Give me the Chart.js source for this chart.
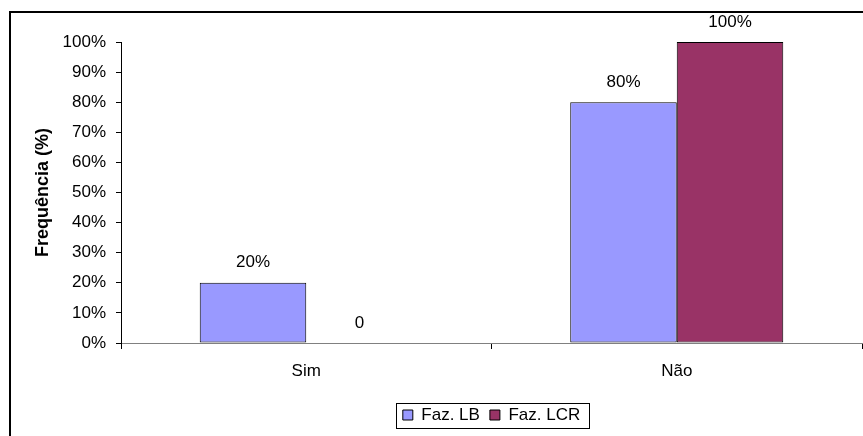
<!DOCTYPE html>
<html>
<head>
<meta charset="utf-8">
<script src="https://cdn.jsdelivr.net/npm/chart.js@4/dist/chart.umd.min.js"></script>
<style>
  html, body { margin: 0; padding: 0; background: #fff; }
  #wrap { width: 863px; height: 436px; }
</style>
</head>
<body>
<div id="wrap"><canvas id="chart"></canvas></div>
<script>
const categories = ['Sim', 'Não'];
const seriesNames = ['Faz. LB', 'Faz. LCR'];
const fazLB = [20, 80];
const fazLCR = [0, 100];
const yTicks = [0, 10, 20, 30, 40, 50, 60, 70, 80, 90, 100];

const FONT = 'Arial, "Liberation Sans", sans-serif';

// outer frame of the chart (only top and left edges are visible)
const framePlugin = {
  id: 'frame',
  afterDraw(chart) {
    const ctx = chart.ctx;
    ctx.save();
    ctx.strokeStyle = '#000';
    ctx.lineWidth = 2;
    ctx.beginPath();
    ctx.moveTo(10, 440);
    ctx.lineTo(10, 12);
    ctx.lineTo(870, 12);
    ctx.stroke();
    ctx.restore();
  }
};

// value labels above each bar
const valueLabels = {
  id: 'valueLabels',
  afterDatasetsDraw(chart) {
    const ctx = chart.ctx;
    ctx.save();
    ctx.font = '17px ' + FONT;
    ctx.fillStyle = '#000';
    ctx.textAlign = 'center';
    ctx.textBaseline = 'middle';
    chart.data.datasets.forEach((ds, i) => {
      chart.getDatasetMeta(i).data.forEach((bar, j) => {
        const v = ds.data[j];
        const txt = v === 0 ? '0' : v + '%';
        ctx.fillText(txt, bar.x, bar.y - 20);
      });
    });
    ctx.restore();
  }
};

// box round the legend
const legendBox = {
  id: 'legendBox',
  afterDraw(chart) {
    const lg = chart.legend;
    if (!lg || !lg.legendHitBoxes.length) return;
    const boxes = lg.legendHitBoxes;
    const left = Math.min(...boxes.map(b => b.left)) - 7;
    const right = Math.max(...boxes.map(b => b.left + b.width)) + 9;
    const mid = boxes[0].top + boxes[0].height / 2;
    const ctx = chart.ctx;
    ctx.save();
    ctx.strokeStyle = '#000';
    ctx.lineWidth = 1;
    ctx.strokeRect(Math.round(left) + 0.5, Math.round(mid - 12.5) + 0.5, Math.round(right - left), 25);
    ctx.restore();
  }
};

new Chart(document.getElementById('chart'), {
  type: 'bar',
  data: {
    labels: categories,
    datasets: [
      {
        label: seriesNames[0],
        data: fazLB,
        backgroundColor: '#9999FF',
        borderColor: '#000',
        borderWidth: 1,
        borderSkipped: false
      },
      {
        label: seriesNames[1],
        data: fazLCR,
        backgroundColor: '#993366',
        borderColor: '#000',
        borderWidth: 1,
        borderSkipped: false
      }
    ]
  },
  options: {
    responsive: true,
    maintainAspectRatio: false,
    animation: false,
    datasets: { bar: { categoryPercentage: 0.575, barPercentage: 1.0 } },
    layout: { padding: { top: 42, right: 1, left: 0, bottom: 2.5 } },
    plugins: {
      legend: {
        position: 'bottom',
        fullSize: false,
        labels: {
          boxWidth: 10,
          boxHeight: 10,
          padding: 10,
          color: '#000',
          font: { family: FONT, size: 17 }
        }
      },
      tooltip: { enabled: false }
    },
    scales: {
      x: {
        afterFit: (scale) => { scale.height = 53.5; },
        grid: { offset: true, drawOnChartArea: false, drawTicks: true, tickLength: 6, color: '#000' },
        border: { display: true, color: '#808080', width: 1 },
        ticks: { color: '#000', padding: 12, font: { family: FONT, size: 17 } }
      },
      y: {
        min: 0,
        max: 100,
        afterFit: (scale) => { scale.width = 121; },
        afterBuildTicks: (scale) => { scale.ticks = yTicks.map(v => ({ value: v })); },
        grid: { drawOnChartArea: false, drawTicks: true, tickLength: 5, color: '#000' },
        border: { display: true, color: '#000', width: 1 },
        ticks: {
          color: '#000',
          padding: 10,
          font: { family: FONT, size: 17 },
          callback: (v) => v + '%'
        },
        title: {
          display: true,
          text: 'Frequência (%)',
          color: '#000',
          padding: { top: 32, bottom: 0 },
          font: { family: FONT, size: 18, weight: 'bold' }
        }
      }
    }
  },
  plugins: [framePlugin, valueLabels, legendBox]
});
</script>
</body>
</html>
